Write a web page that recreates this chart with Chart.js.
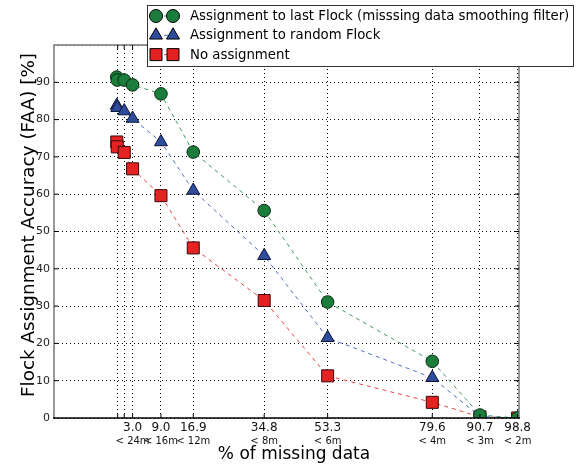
<!DOCTYPE html>
<html>
<head>
<meta charset="utf-8">
<script src="https://cdn.jsdelivr.net/npm/chart.js@4.4.1/dist/chart.umd.min.js"></script>
<style>
html, body { margin: 0; padding: 0; background: #fff; }
#wrap { width: 579px; height: 468px; }
</style>
</head>
<body>
<div id="wrap"><canvas id="myChart" width="579" height="468"></canvas></div>
<script>
// x positions along the drawn axis (axis is not linear in the labelled % values)
var xPos = [13.5, 13.6, 15.1, 16.9, 23.0, 29.95, 45.2, 58.85, 81.35, 91.6, 99.7];
var tickPos = [13.7, 15.1, 16.9, 23.0, 29.95, 45.2, 58.85, 81.35, 91.6, 99.7];
var tickTop = ['', '', '3.0', '9.0', '16.9', '34.8', '53.3', '79.6', '90.7', '98.8'];
var tickBottom = ['', '', '< 24m', '< 16m', '< 12m', '< 8m', '< 6m', '< 4m', '< 3m', '< 2m'];

var lastFlock = [91.4, 90.6, 90.6, 89.3, 86.9, 71.3, 55.6, 31.1, 15.2, 0.8, 0];
var randomFlock = [83.8, 83.2, 82.3, 80.3, 74.0, 61.0, 43.5, 21.5, 10.8, 0.4, 0];
var noAssign = [74.0, 72.7, 71.2, 66.8, 59.6, 45.6, 31.5, 11.3, 4.2, 0.3, 0];

var labels = ['Assignment to last Flock (misssing data smoothing filter)', 'Assignment to random Flock', 'No assignment'];

function pts(ys) {
    return ys.map(function (y, i) { return { x: xPos[i], y: y }; });
}

var FONT = '"DejaVu Sans", sans-serif';

function marker(ctx, style, x, y, fill) {
    ctx.save();
    ctx.fillStyle = fill;
    ctx.strokeStyle = '#000';
    ctx.lineWidth = 1;
    ctx.setLineDash([]);
    ctx.beginPath();
    if (style === 'circle') {
        ctx.arc(x, y, 6.5, 0, Math.PI * 2);
    } else if (style === 'triangle') {
        var r = 7.5;
        ctx.moveTo(x, y - r);
        ctx.lineTo(x + r * 0.866, y + r * 0.5);
        ctx.lineTo(x - r * 0.866, y + r * 0.5);
        ctx.closePath();
    } else {
        ctx.rect(x - 6, y - 6, 12, 12);
    }
    ctx.fill();
    ctx.stroke();
    ctx.restore();
}

var extras = {
    id: 'extras',
    afterDraw: function (chart) {
        var ctx = chart.ctx;
        var a = chart.chartArea;
        var xs = chart.scales.x, ys = chart.scales.y;
        ctx.save();
        // frame
        ctx.setLineDash([]);
        ctx.lineWidth = 1.5;
        ctx.strokeStyle = '#777';
        ctx.beginPath();
        ctx.moveTo(a.left, a.bottom);
        ctx.lineTo(a.left, a.top);
        ctx.lineTo(a.right, a.top);
        ctx.lineTo(a.right, a.bottom);
        ctx.stroke();
        ctx.strokeStyle = '#000';
        ctx.beginPath();
        ctx.moveTo(a.left - 1, a.bottom);
        ctx.lineTo(a.right + 1, a.bottom);
        ctx.stroke();

        // inward tick marks
        ctx.lineWidth = 1;
        ctx.strokeStyle = '#000';
        ctx.beginPath();
        tickPos.forEach(function (v) {
            var px = xs.getPixelForValue(v);
            ctx.moveTo(px, a.bottom); ctx.lineTo(px, a.bottom - 4);
            ctx.moveTo(px, a.top); ctx.lineTo(px, a.top + 4);
        });
        for (var t = 10; t < 100; t += 10) {
            var py = ys.getPixelForValue(t);
            ctx.moveTo(a.left, py); ctx.lineTo(a.left + 4, py);
            ctx.moveTo(a.right, py); ctx.lineTo(a.right - 4, py);
        }
        ctx.stroke();

        // x tick labels (two lines)
        ctx.fillStyle = '#111';
        ctx.textAlign = 'center';
        ctx.textBaseline = 'middle';
        tickPos.forEach(function (v, i) {
            var px = xs.getPixelForValue(v);
            ctx.font = '12px ' + FONT;
            ctx.fillText(tickTop[i], px, a.bottom + 10);
            ctx.font = '10px ' + FONT;
            ctx.fillText(tickBottom[i], px, a.bottom + 23);
        });

        // axis titles
        ctx.fillStyle = '#000';
        ctx.font = '17px ' + FONT;
        ctx.fillText('% of missing data', 294, 455);
        ctx.save();
        ctx.font = '18.4px ' + FONT;
        ctx.translate(29, 225);
        ctx.rotate(-Math.PI / 2);
        ctx.fillText('Flock Assignment Accuracy (FAA) [%]', 0, 0);
        ctx.restore();

        // legend
        ctx.fillStyle = '#fff';
        ctx.fillRect(147, 5, 426, 62);
        ctx.strokeStyle = '#333';
        ctx.lineWidth = 1;
        ctx.strokeRect(147.5, 5.5, 426, 61);
        chart.data.datasets.forEach(function (ds, i) {
            var y = 16 + i * 19.3;
            ctx.strokeStyle = ds.borderColor;
            ctx.setLineDash([4, 4]);
            ctx.beginPath();
            ctx.moveTo(156, y); ctx.lineTo(173, y);
            ctx.stroke();
            marker(ctx, ds.pointStyle, 156, y, ds.pointBackgroundColor);
            marker(ctx, ds.pointStyle, 173, y, ds.pointBackgroundColor);
            ctx.fillStyle = '#000';
            ctx.font = '13.3px ' + FONT;
            ctx.textAlign = 'left';
            ctx.fillText(ds.label, 190, y + 0.5);
        });
        ctx.restore();
    }
};

var ctx = document.getElementById('myChart').getContext('2d');
var myChart = new Chart(ctx, {
    type: 'line',
    data: {
        datasets: [{
            label: labels[0],
            data: pts(lastFlock),
            borderColor: '#3c9c5c',
            pointBackgroundColor: '#1b7d3c',
            pointBorderColor: '#0a2a12',
            pointStyle: 'circle',
            pointRadius: 6.3
        }, {
            label: labels[1],
            data: pts(randomFlock),
            borderColor: '#4f6cc4',
            pointBackgroundColor: '#2f4d9c',
            pointBorderColor: '#0a1430',
            pointStyle: 'triangle',
            pointRadius: 7.5
        }, {
            label: labels[2],
            data: pts(noAssign),
            borderColor: '#e84444',
            pointBackgroundColor: '#e52222',
            pointBorderColor: '#3a0808',
            pointStyle: 'rect',
            pointRadius: 8.5
        }]
    },
    options: {
        responsive: false,
        animation: false,
        layout: { padding: { left: 0, right: 60, top: 45, bottom: 0 } },
        elements: {
            line: { borderWidth: 1, borderDash: [4, 4], tension: 0, fill: false },
            point: { borderWidth: 1 }
        },
        plugins: { legend: { display: false }, tooltip: { enabled: false } },
        scales: {
            x: {
                type: 'linear', min: 0, max: 100,
                afterFit: function (s) { s.height = 50; },
                afterBuildTicks: function (s) { s.ticks = tickPos.map(function (v) { return { value: v }; }); },
                ticks: { display: false },
                grid: { color: '#000', lineWidth: 1, drawTicks: false },
                border: { display: false, dash: [1, 3] }
            },
            y: {
                min: 0, max: 100,
                afterFit: function (s) { s.width = 54; },
                ticks: {
                    stepSize: 10, padding: 4, color: '#222',
                    font: { family: 'DejaVu Sans', size: 11 },
                    callback: function (v) { return v === 100 ? '' : v; }
                },
                grid: { color: '#000', lineWidth: 1, drawTicks: false },
                border: { display: false, dash: [1, 3] }
            }
        }
    },
    plugins: [extras]
});
</script>
</body>
</html>
